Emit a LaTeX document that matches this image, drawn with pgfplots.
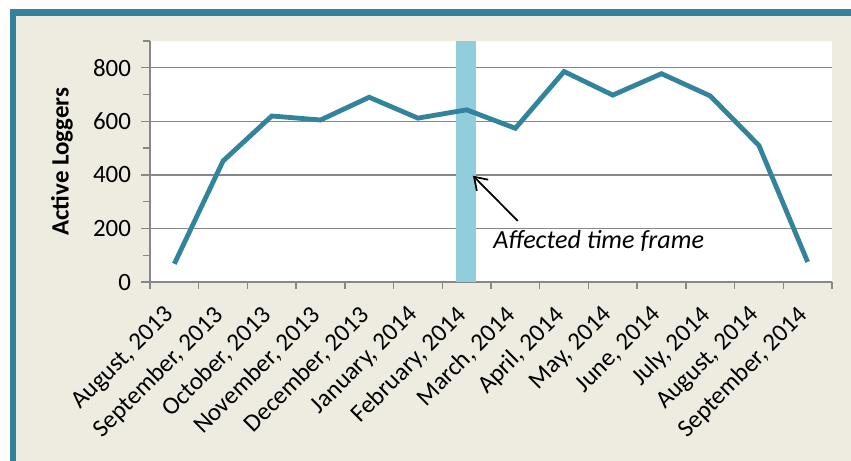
\documentclass[border=0pt]{standalone}
\usepackage{fontspec}
\setmainfont{Carlito}
\usepackage{pgfplots}
\pgfplotsset{compat=1.18}
\usetikzlibrary{arrows.meta}
\definecolor{teal1}{HTML}{31849B}
\definecolor{beige}{HTML}{EEECE1}
\definecolor{barblue}{HTML}{92CDDC}
\definecolor{gridgray}{HTML}{878787}
\begin{document}
\begin{tikzpicture}
\useasboundingbox (0pt,0pt) rectangle (638.25pt,345.75pt);
\fill[white] (0pt,0pt) rectangle (638.25pt,345.75pt);
\fill[beige] (9.75pt,-15pt) rectangle (675pt,336.5pt);
\draw[teal1,line width=4.8pt] (9.75pt,-15pt) -- (9.75pt,336.5pt) -- (675pt,336.5pt);
\begin{axis}[
  at={(112.5pt,134.25pt)}, anchor=south west,
  scale only axis, width=511.5pt, height=180.75pt,
  xmin=-0.5, xmax=13.5, ymin=0, ymax=900,
  axis x line*=bottom, axis y line*=left,
  axis line style={gridgray, line width=1pt, -},
  axis background/.style={fill=white},
  xtick={0,...,13},
  xticklabels={{August, 2013},{September, 2013},{October, 2013},{November, 2013},{December, 2013},{January, 2014},{February, 2014},{March, 2014},{April, 2014},{May, 2014},{June, 2014},{July, 2014},{August, 2014},{September, 2014}},
  major x tick style={draw=none},
  minor xtick={-0.5,0.5,...,13.5},
  ytick={0,200,...,800},
  minor ytick={100,300,...,900},
  ymajorgrids,
  major grid style={gridgray, line width=1pt},
  tick align=outside,
  major tick length=6.75pt,
  minor tick length=5.25pt,
  tick style={gridgray, line width=1pt},
  xticklabel style={rotate=45, anchor=north east, inner sep=1pt, xshift=-12pt, font=\fontsize{18.7}{22}\selectfont},
  yticklabel style={xshift=-4pt, font=\fontsize{18.7}{22}\selectfont},
  /pgf/number format/assume math mode=true,
  ylabel={\textbf{Active Loggers}},
  ylabel style={at={(axis description cs:-0.129,0.5)}, anchor=center, font=\fontsize{18.7}{22}\selectfont},
  clip=false,
]
\addplot[fill=barblue, draw=none] coordinates {(5.78,0) (6.19,0) (6.19,900) (5.78,900)} -- cycle;
\addplot[teal1, line width=3.6pt, mark=none] coordinates {
(0,68) (1,452) (2,620) (3,605) (4,690) (5,612) (6,643) (7,574) (8,786) (9,698) (10,778) (11,695) (12,510) (13,75)};
\draw[black, line width=1.3pt, -{Straight Barb[length=9pt,width=12pt]}] (axis cs:7.05,228) -- (axis cs:6.13,397);
\node[anchor=west, font=\fontsize{19.6}{23}\selectfont\itshape] at (axis cs:6.45,153) {Affected time frame};
\end{axis}
\end{tikzpicture}
\end{document}
